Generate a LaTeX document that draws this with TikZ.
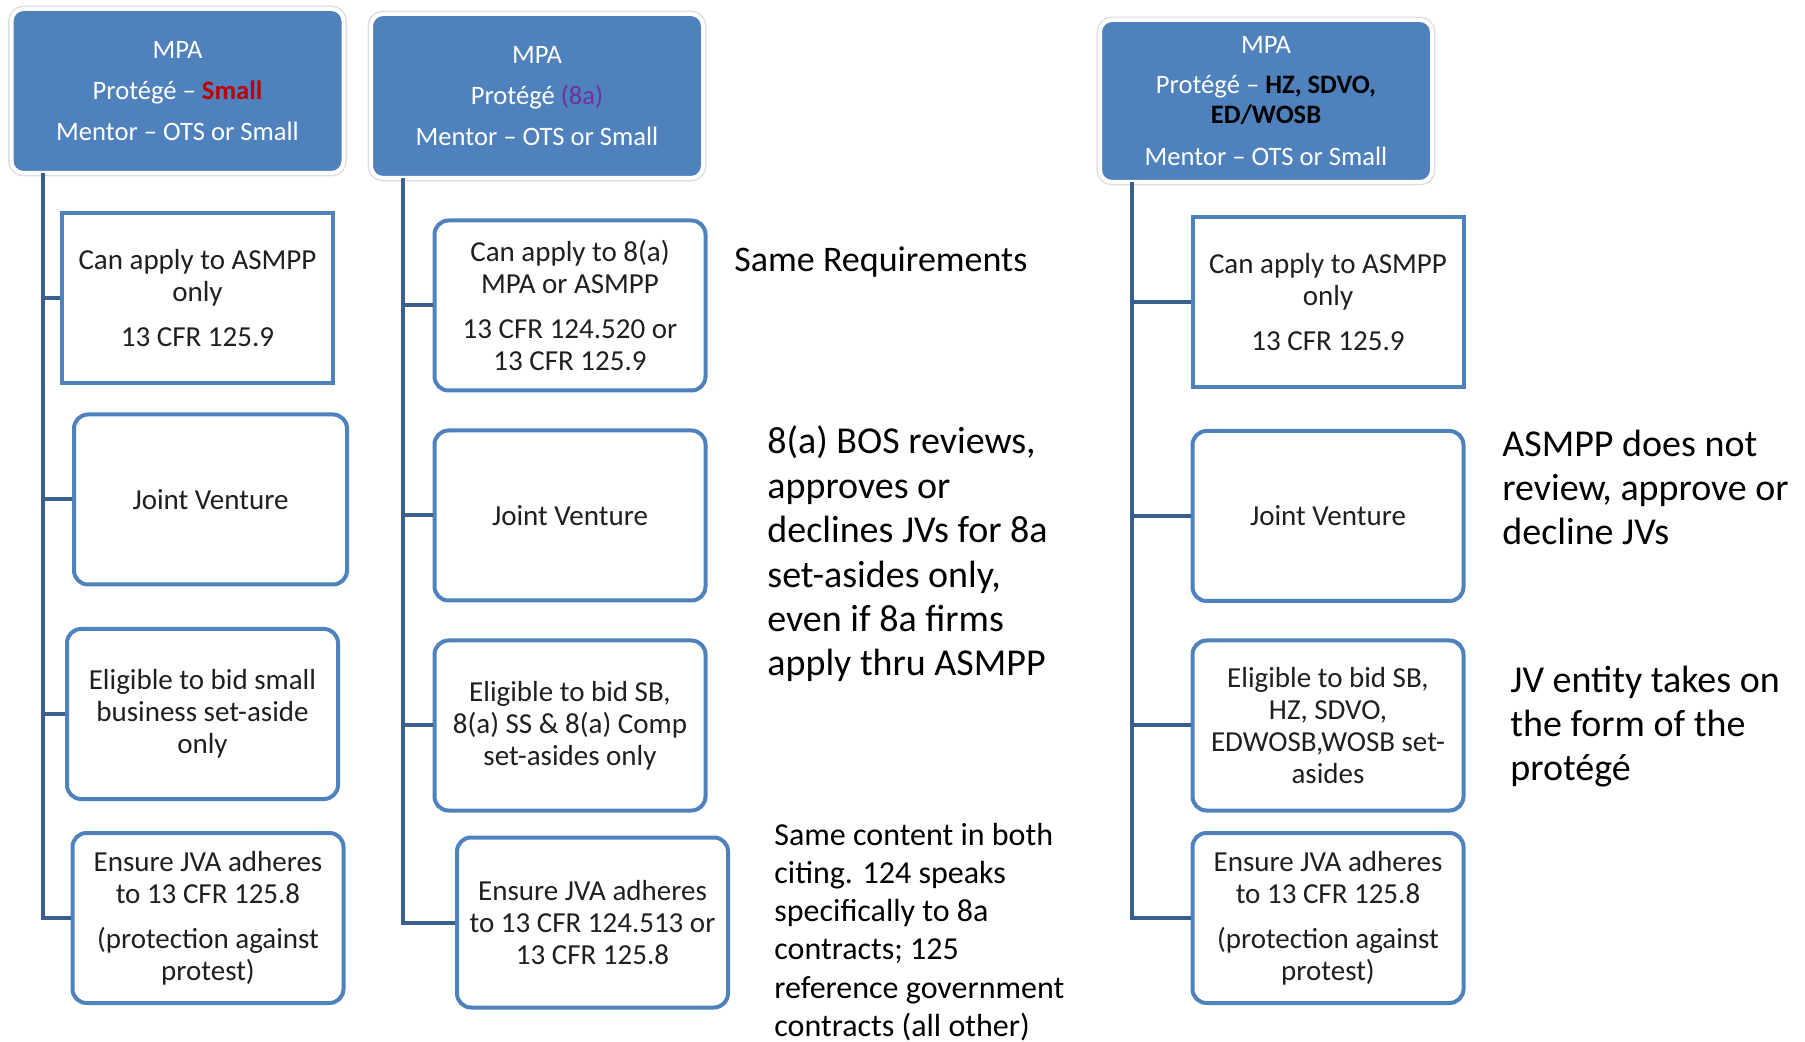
\documentclass[tikz,border=0pt]{standalone}
\usepackage{fontspec}
\setmainfont{Carlito}
\definecolor{hdrblue}{RGB}{79,129,189}
\definecolor{trunkblue}{RGB}{58,95,140}
\definecolor{bordblue}{RGB}{79,129,189}
\definecolor{smallred}{RGB}{192,0,0}
\definecolor{purp}{RGB}{112,48,160}
\begin{document}
\begin{tikzpicture}[x=0.5pt,y=-0.5pt,
 hdr/.style={rounded corners=6pt, fill=hdrblue, draw=white, line width=2pt,
   preaction={draw=black!13, line width=3.4pt}, text=white, align=center,
   font=\fontsize{13.3pt}{15pt}\selectfont, inner sep=0pt,
   minimum width=166pt, minimum height=82pt},
 box/.style={rounded corners=7pt, fill=white, draw=bordblue, line width=2pt,
   align=center, text=black!88, font=\fontsize{14.5pt}{16pt}\selectfont,
   inner sep=0pt, minimum width=135.5pt, minimum height=85pt},
 sqbox/.style={box, sharp corners},
 trunk/.style={draw=trunkblue, line width=2pt},
 note/.style={anchor=west, align=left, inner sep=0pt, text=black}
]
\useasboundingbox (0,0) rectangle (1805,1042);

% ---- headers
\node[hdr] (h1) at (177.5,91) {MPA\\[5.5pt]Protégé – \textcolor{smallred}{\textbf{Small}}\\[5.5pt]Mentor – OTS or Small};
\node[hdr] (h2) at (537,96) {MPA\\[5.5pt]Protégé \textcolor{purp}{(8a)}\\[5.5pt]Mentor – OTS or Small};
\node[hdr, minimum height=81pt] (h3) at (1266,101) {MPA\\[5pt]Protégé – \textcolor{black}{\textbf{HZ, SDVO,}}\\\textcolor{black}{\textbf{ED/WOSB}}\\[6pt]Mentor – OTS or Small};

% ---- column 1
\node[sqbox] (b1) at (197.5,298.5) {Can apply to ASMPP\\only\\[6.5pt]13 CFR 125.9};
\node[box, minimum width=136.5pt] (b2) at (210.5,499.5) {Joint Venture};
\node[box] (b3) at (202.5,714) {Eligible to bid small\\business set-aside\\only};
\node[box] (b4) at (208,918) {Ensure JVA adheres\\to 13 CFR 125.8\\[6.5pt](protection against\\protest)};

% ---- column 2
\node[box] (c1) at (570,305.5) {Can apply to 8(a)\\MPA or ASMPP\\[6.5pt]13 CFR 124.520 or\\13 CFR 125.9};
\node[box] (c2) at (570,515.5) {Joint Venture};
\node[box] (c3) at (570,725.5) {Eligible to bid SB,\\8(a) SS \& 8(a) Comp\\set-asides only};
\node[box] (c4) at (592.5,922.5) {Ensure JVA adheres\\to 13 CFR 124.513 or\\13 CFR 125.8};

% ---- column 3
\node[sqbox] (d1) at (1328,302.5) {Can apply to ASMPP\\only\\[6.5pt]13 CFR 125.9};
\node[box] (d2) at (1328,516) {Joint Venture};
\node[box] (d3) at (1328,725.5) {Eligible to bid SB,\\HZ, SDVO,\\EDWOSB,WOSB set-\\asides};
\node[box] (d4) at (1328,918) {Ensure JVA adheres\\to 13 CFR 125.8\\[6.5pt](protection against\\protest)};

% ---- trunks and branches
\coordinate (t1) at (43,173);
\coordinate (t2) at (403,178);
\coordinate (t3) at (1132,182);
\draw[trunk] (t1) |- (b4.west);
\draw[trunk] (t1 |- b1.west) -- (b1.west);
\draw[trunk] (t1 |- b2.west) -- (b2.west);
\draw[trunk] (t1 |- b3.west) -- (b3.west);
\draw[trunk] (t2) |- (c4.west);
\draw[trunk] (t2 |- c1.west) -- (c1.west);
\draw[trunk] (t2 |- c2.west) -- (c2.west);
\draw[trunk] (t2 |- c3.west) -- (c3.west);
\draw[trunk] (t3) |- (d4.west);
\draw[trunk] (t3 |- d1.west) -- (d1.west);
\draw[trunk] (t3 |- d2.west) -- (d2.west);
\draw[trunk] (t3 |- d3.west) -- (d3.west);

% ---- notes
\node[note, font=\fontsize{18pt}{21pt}\selectfont] (n1) at (734,262) {Same Requirements};
\node[note, font=\fontsize{19pt}{22.2pt}\selectfont] (n2) at (767,554) {8(a) BOS reviews,\\approves or\\declines JVs for 8a\\set-asides only,\\even if 8a firms\\apply thru ASMPP};
\node[note, font=\fontsize{16pt}{19.1pt}\selectfont] (n3) at (774,932) {Same content in both\\citing. 124 speaks\\specifically to 8a\\contracts; 125\\reference government\\contracts (all other)};
\node[note, font=\fontsize{19pt}{22.2pt}\selectfont] (n4) at (1502,487.5) {ASMPP does not\\review, approve or\\decline JVs};
\node[note, font=\fontsize{19pt}{22pt}\selectfont] (n5) at (1510,727) {JV entity takes on\\the form of the\\protégé};
\end{tikzpicture}
\end{document}
